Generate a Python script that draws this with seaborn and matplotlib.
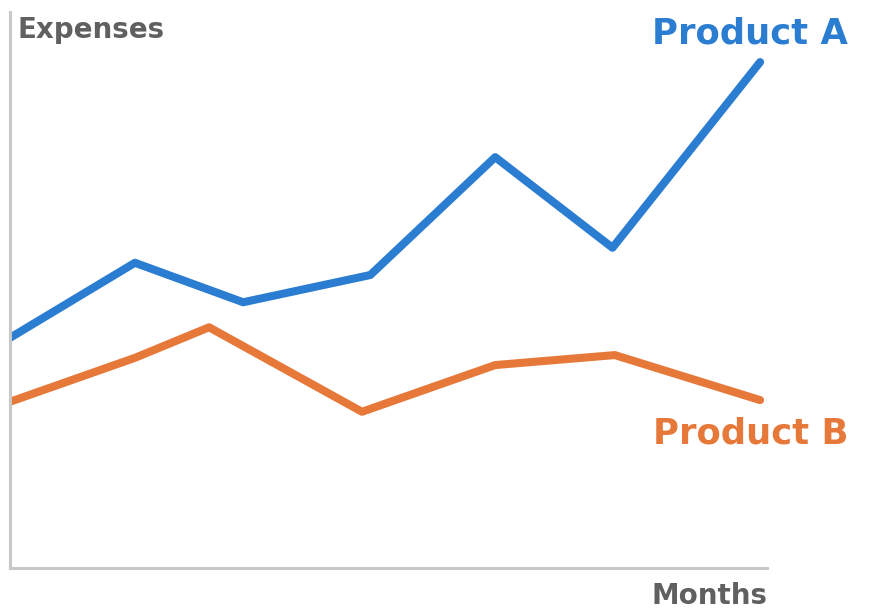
import matplotlib
matplotlib.use('Agg')
import matplotlib.pyplot as plt
import seaborn as sns
import pandas as pd

# data (x = months, y = expenses, arbitrary units)
a_months = [0.0, 1.65, 3.08, 4.76, 6.41, 7.96, 9.91]
a_expenses = [41.4, 54.9, 47.8, 52.7, 73.9, 57.6, 91.0]
b_months = [0.0, 1.65, 2.63, 4.65, 6.41, 7.99, 9.91]
b_expenses = [29.9, 37.8, 43.3, 28.1, 36.5, 38.3, 30.2]
products = ['Product A', 'Product B']
colors = ['#2a7dd1', '#e6793a']

df = pd.concat([
    pd.DataFrame({'month': a_months, 'expense': a_expenses, 'product': products[0]}),
    pd.DataFrame({'month': b_months, 'expense': b_expenses, 'product': products[1]}),
])

sns.set_style('white')

fig = plt.figure(figsize=(8.71, 6.14), dpi=100)
ax = fig.add_axes([0.0115, 0.0749, 0.869, 0.9055])

sns.lineplot(data=df, x='month', y='expense', hue='product', palette=colors,
             linewidth=5.8, legend=False, ax=ax, sort=False)

ax.set_xlim(0, 10)
ax.set_ylim(0, 100)
ax.set_xticks([])
ax.set_yticks([])
ax.set_xlabel('')
ax.set_ylabel('')
sns.despine(ax=ax)
for s in ['left', 'bottom']:
    ax.spines[s].set_color('#c8c8c8')
    ax.spines[s].set_linewidth(2.2)

W, H = 871, 614
fig.text(17 / W, 1 - 30 / H, 'Expenses', ha='left', va='center',
         fontsize=20, fontweight='bold', color='#606060')
fig.text(767 / W, 1 - 596 / H, 'Months', ha='right', va='center',
         fontsize=20, fontweight='bold', color='#606060')

fig.text(848 / W, 1 - 34 / H, 'Product A', ha='right', va='center',
         fontsize=25.5, fontweight='bold', color=colors[0])
fig.text(848 / W, 1 - 434 / H, 'Product B', ha='right', va='center',
         fontsize=25.5, fontweight='bold', color=colors[1])

fig.savefig('out.png', dpi=100)
